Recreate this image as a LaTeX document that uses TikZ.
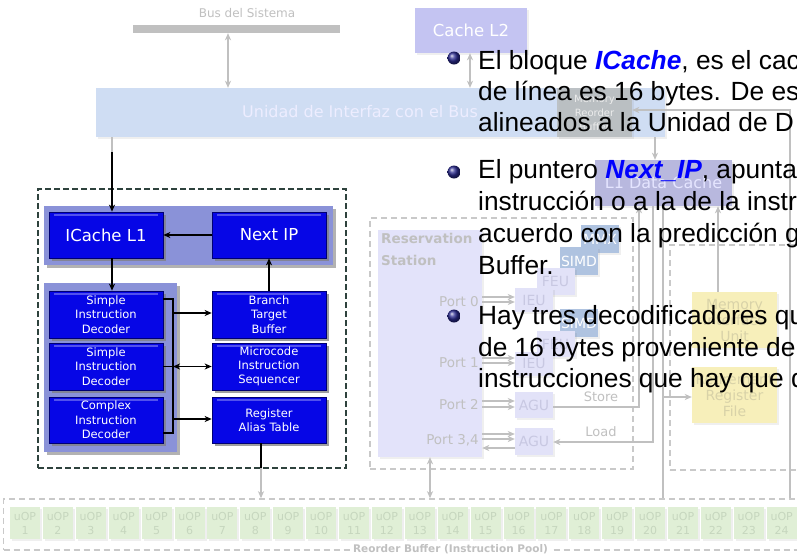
\documentclass[tikz,border=0pt]{standalone}
\usepackage{fontspec}
\setmainfont{DejaVu Sans}
\newfontfamily\bodyfont{Liberation Sans}
\usetikzlibrary{arrows.meta,shadows,calc}
\definecolor{fgray}{HTML}{C0C0C0}
\definecolor{biublue}{HTML}{CFDDF3}
\definecolor{l2col}{HTML}{C4C4F2}
\definecolor{mobcol}{HTML}{B9BDBD}
\definecolor{l1dcol}{HTML}{B8B8DE}
\definecolor{rscol}{HTML}{E3E3FA}
\definecolor{unitcol}{HTML}{E2E2F8}
\definecolor{unittext}{HTML}{C8C8E2}
\definecolor{simdcol}{HTML}{AFC3E0}
\definecolor{yelcol}{HTML}{F7EFBA}
\definecolor{yeltext}{HTML}{D8D2A8}
\definecolor{uopcol}{HTML}{E0EFD6}
\definecolor{uoptext}{HTML}{C6D6BE}
\definecolor{feblue}{HTML}{0606E6}
\definecolor{fepanel}{HTML}{8A92D8}
\definecolor{fedashcol}{HTML}{2E423D}
\definecolor{bulletblue}{HTML}{2A2A90}
\definecolor{kwblue}{HTML}{0000FF}
\newcommand{\fsz}[2]{\fontsize{#1pt}{#2pt}\selectfont}
\tikzset{
  fadebox/.style={inner sep=1pt, align=center, drop shadow={shadow xshift=2pt, shadow yshift=-2pt, opacity=0.12}},
  garrow/.style={draw=fgray, line width=1.4pt},
  gdash/.style={draw=fgray!85, line width=1.5pt, dash pattern=on 6pt off 4pt},
  febox/.style={draw=blue!45!black, line width=0.6pt, fill=feblue, text=white, minimum width=114pt,
     inner sep=1pt, align=center, font=\fsz{11.5}{14.3},
     drop shadow={shadow xshift=2.5pt, shadow yshift=-2.5pt, opacity=0.75},
     path picture={\draw[white, opacity=0.3, line width=1.2pt]
        ($(path picture bounding box.north west)+(5pt,-3pt)$) -- ($(path picture bounding box.north east)+(-5pt,-3pt)$);}},
  fepanelbox/.style={fill=fepanel, drop shadow={shadow xshift=3pt, shadow yshift=-3pt, opacity=0.6}},
  fearrow/.style={draw=black, line width=1.5pt},
  unitbox/.style={fadebox, fill=unitcol, text=unittext, minimum width=38pt, font=\fsz{14}{16}},
  simdbox/.style={fadebox, fill=simdcol, text=white, minimum width=38pt, minimum height=28pt, font=\fsz{14}{16}},
  portlbl/.style={text=fgray, font=\fsz{13.5}{16}, inner sep=0, anchor=east},
  yelbox/.style={fadebox, fill=yelcol, text=yeltext, minimum width=85pt, minimum height=56pt, font=\fsz{14}{16}},
  uopbox/.style={fadebox, fill=uopcol, text=uoptext, minimum width=30pt, minimum height=32pt, font=\fsz{11}{14}},
  bodytxt/.style={anchor=base west, inner sep=0, font=\bodyfont\fsz{26.3}{31}},
  bulletball/.style={circle, inner sep=0, minimum size=13pt, shading=ball, ball color=bulletblue}
}
\newcommand{\kwd}[1]{\textcolor{kwblue}{\bfseries\itshape #1}}
\begin{document}
\begin{tikzpicture}[x=1pt,y=-1pt, >={Stealth[length=7pt,width=6pt,inset=2pt]}]
\useasboundingbox (0,0) rectangle (797,555);
\clip (0,0) rectangle (797,555);
\fill[white] (0,0) rectangle (797,555);

% ---------- faded background ----------
\node[text=fgray, font=\fsz{12}{14}, inner sep=0] (buslabel) at (247,13) {Bus del Sistema};
\node[fill=fgray, minimum width=207pt, minimum height=8pt, inner sep=0] (bus) at (236.5,29) {};
\node[fadebox, fill=biublue, minimum width=569pt, minimum height=49pt] (biu) at (380.5,112.5) {};
\node[text=white!93!blue, font=\fsz{16}{19}, inner sep=0] (biulabel) at (360,112) {Unidad de Interfaz con el Bus};
\node[fadebox, fill=l2col, minimum width=112pt, minimum height=45pt, text=white, font=\fsz{16.5}{19}] (l2) at (471,30.5) {Cache L2};
\node[fadebox, fill=mobcol, fill opacity=0.85, text opacity=1, text=white!85!gray, minimum width=75pt, minimum height=49pt, font=\fsz{10}{14}] (mob) at (594.5,112.5) {Memory\\Reorder\\Buffer};
\node[fadebox, fill=l1dcol, minimum width=137pt, minimum height=46pt, text=white!90!blue, font=\fsz{16}{19}] (l1d) at (663.5,183) {L1 Data Cache};

\coordinate (busx) at (228,0);
\draw[garrow,<->] (bus.south -| busx) -- (biu.north -| busx);
\coordinate (l2x) at (470,0);
\draw[garrow,<->] (l2.south -| l2x) -- (biu.north -| l2x);
\coordinate (dcx) at (655,0);
\draw[garrow,->] (biu.south -| dcx) -- (l1d.north -| dcx);

% reservation station
\node[gdash, minimum width=263pt, minimum height=251pt] (rsbox) at (501.5,343.5) {};
\node[fadebox, fill=rscol, minimum width=104pt, minimum height=227pt] (rs) at (430,343.5) {};
\node[anchor=north west, font=\bfseries\fsz{13.5}{22}, text=fgray, align=left, inner sep=0] (rslabel) at (381,233) {Reservation\\Station};
\node[portlbl] (p0) at (479,302) {Port 0};
\node[portlbl] (p1) at (479,363) {Port 1};
\node[portlbl] (p2) at (479,405) {Port 2};
\node[portlbl] (p34) at (479,440) {Port 3,4};

\node[simdbox] (mmx0) at (600,239) {MMX};
\node[simdbox] (simd0) at (579,261) {SIMD};
\node[unitbox, minimum height=27pt] (feu0) at (555.5,281.5) {FEU};
\node[unitbox, minimum height=24pt] (ieu0) at (534,300) {IEU};
\node[simdbox] (simd1) at (579,323) {SIMD};
\node[unitbox, minimum height=26pt] (feu1) at (555.5,344) {FEU};
\node[unitbox, minimum height=24pt] (ieu1) at (534,363.5) {IEU};
\node[unitbox, minimum height=26pt] (agu2) at (534,405) {AGU};
\node[unitbox, minimum height=27pt] (agu3) at (534,441.5) {AGU};

\draw[garrow,->] (rs.east |- 0,297) -- (ieu0.west |- 0,297);
\draw[garrow,->] (rs.east |- 0,302) -- (ieu0.west |- 0,302);
\draw[garrow,->] (rs.east |- 0,358) -- (ieu1.west |- 0,358);
\draw[garrow,->] (rs.east |- 0,363) -- (ieu1.west |- 0,363);
\draw[garrow,->] (rs.east |- 0,401) -- (agu2.west |- 0,401);
\draw[garrow,->] (rs.east |- 0,407) -- (agu2.west |- 0,407);
\draw[garrow,->] (rs.east |- 0,434) -- (agu3.west |- 0,434);
\draw[garrow,->] (rs.east |- 0,439) -- (agu3.west |- 0,439);
\draw[garrow,<-] (rs.east |- 0,448) -- (agu3.west |- 0,448);

\coordinate (stx) at (639,407);
\draw[garrow,->] (agu2.east |- stx) -- (stx) -- (stx |- l1d.south);
\node[text=fgray, font=\fsz{13}{15}, inner sep=0] (storelbl) at (601,397) {Store};
\coordinate (ldx) at (653,442);
\draw[garrow,->] (ldx |- l1d.south) -- (ldx) -- (agu3.east |- ldx);
\node[text=fgray, font=\fsz{13}{15}, inner sep=0] (loadlbl) at (601,432) {Load};

% retirement area
\node[gdash, minimum width=150pt, minimum height=225pt] (retbox) at (745,357.5) {};
\node[yelbox] (miu) at (734.5,320) {Memory\\Interface\\Unit};
\node[yelbox] (rrf) at (734.5,395) {Retirement\\Register\\File};
\coordinate (mx) at (718,0);
\draw[garrow,->] (miu.north -| mx) -- (l1d.south -| mx);

% reorder buffer
\node[gdash, minimum width=800pt, minimum height=51pt] (rob) at (403.5,524.5) {};
\foreach \i in {1,...,24} {
  \node[uopbox] (u\i) at ({25+(\i-1)*32.9},523) {uOP\\\i};
}
\node[fill=white, text=fgray, font=\bfseries\fsz{10.5}{12}, inner sep=2pt] (roblabel) at (450.5,549) {Reorder Buffer (Instruction Pool)};

\coordinate (vx) at (663,397);
\draw[garrow] (vx |- l1d.south) -- (vx |- rob.north);
\draw[garrow,->] (vx) -- (rrf.west |- vx);
\coordinate (rcorner) at (790,110);
\draw[garrow,->] (rob.north -| rcorner) -- (rcorner) -- (mob.east |- rcorner);
\coordinate (rsx) at (430,0);
\draw[garrow,<->] (rob.north -| rsx) -- (rs.south -| rsx);

% ---------- front end ----------
\node[draw=fedashcol, line width=1.6pt, dash pattern=on 6pt off 3pt, minimum width=308pt, minimum height=279pt] (fe) at (192,328.5) {};
\node[fepanelbox, minimum width=289pt, minimum height=59pt] (toppanel) at (188.5,235.5) {};
\node[fepanelbox, minimum width=133pt, minimum height=169pt] (decpanel) at (110.5,367.5) {};
\node[febox, minimum height=46pt, font=\fsz{16.5}{19}] (icache) at (106,235) {ICache L1};
\node[febox, minimum height=46pt, font=\fsz{16.5}{19}] (nextip) at (269,235) {Next IP};
\node[febox, minimum height=47pt] (dec1) at (106,314.5) {Simple\\Instruction\\Decoder};
\node[febox, minimum height=47pt] (dec2) at (106,366.5) {Simple\\Instruction\\Decoder};
\node[febox, minimum height=46pt] (dec3) at (106,420) {Complex\\Instruction\\Decoder};
\node[febox, minimum height=47pt] (btb) at (269,314.5) {Branch\\Target\\Buffer};
\node[febox, minimum height=47pt] (mis) at (269,366.5) {Microcode\\Instruction\\Sequencer};
\node[febox, minimum height=46pt] (rat) at (269,420) {Register\\Alias Table};

\coordinate (fetchin) at (112,152);
\draw[garrow] (biu.south -| fetchin) -- (fetchin);
\draw[fearrow,->] (fetchin) -- (fetchin |- icache.north);
\draw[fearrow,->] (nextip.west) -- (icache.east);
\draw[fearrow,->] (icache.south -| fetchin) -- (dec1.north -| fetchin);
\draw[fearrow,->] (btb.north) -- (nextip.south);
\coordinate (br1) at (173,299);
\coordinate (br2) at (173,433);
\draw[fearrow] (dec1.east |- br1) -- (br1) -- (br2) -- (dec3.east |- br2);
\draw[fearrow] (dec2.east) -- (dec2.east -| br1);
\draw[fearrow,->] (br1 |- 0,313) -- (btb.west |- 0,313);
\draw[fearrow,<->] (br1 |- mis.west) -- (mis.west);
\draw[fearrow,->] (br1 |- 0,419) -- (rat.west |- 0,419);
\coordinate (ratout) at (261,468);
\draw[fearrow] (rat.south -| ratout) -- (ratout);
\draw[garrow,->] (ratout) -- (ratout |- rob.north);

% ---------- overlay text ----------
\node[bulletball] (bul1) at (454,58) {};
\node[bodytxt] (t11) at (478,69) {El bloque \kwd{ICache}, es el cac};
\node[bodytxt] (t12) at (478,100) {de línea es 16 bytes. De es};
\node[bodytxt] (t13) at (478,131) {alineados a la Unidad de D};
\node[bulletball] (bul2) at (454,172) {};
\node[bodytxt] (t21) at (478,178) {El puntero \kwd{Next\_IP}, apunta};
\node[bodytxt] (t22) at (478,210) {instrucción o a la de la instr};
\node[bodytxt] (t23) at (478,242) {acuerdo con la predicción g};
\node[bodytxt] (t24) at (478,274) {Buffer.};
\node[bulletball] (bul3) at (454,316) {};
\node[bodytxt] (t31) at (478,324) {Hay tres decodificadores qu};
\node[bodytxt] (t32) at (478,356) {de 16 bytes proveniente de};
\node[bodytxt] (t33) at (478,387) {instrucciones que hay que d};
\end{tikzpicture}
\end{document}
